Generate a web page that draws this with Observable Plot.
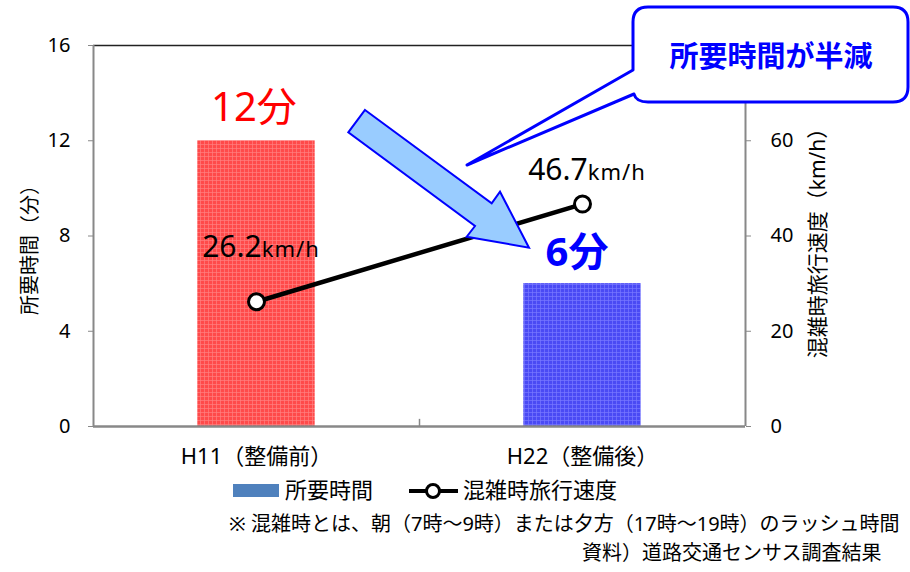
<!DOCTYPE html>
<html><head><meta charset="utf-8">
<script src="https://cdn.jsdelivr.net/npm/d3@7"></script>
<script src="https://cdn.jsdelivr.net/npm/@observablehq/plot@0.6"></script>
<style>
html,body{margin:0;padding:0;background:#fff;overflow:hidden;width:910px;height:572px;}
#chart svg{display:block;}
</style></head><body><div id="chart"></div>
<script>
// ---- data ----
const categories = ["H11（整備前）", "H22（整備後）"];
const minutes = [12, 6];            // 所要時間（分）
const speeds = [26.2, 46.7];        // 混雑時旅行速度（km/h）
const minuteTicks = [0, 4, 8, 12, 16];
const speedTicks = [0, 20, 40, 60];
const barColors = ["red", "blue"];
const legendLabels = ["所要時間", "混雑時旅行速度"];
const calloutText = "所要時間が半減";
const notes = ["※ 混雑時とは、朝（7時～9時）または夕方（17時～19時）のラッシュ時間", "資料）道路交通センサス調査結果"];

const K = 16 / 80; // speed -> minute axis
const FONT = "'Noto Sans','Noto Sans CJK JP',sans-serif";
const rows = categories.map((c, i) => ({i, cat: c, minutes: minutes[i], speed: speeds[i], sy: speeds[i] * K}));

const plot = Plot.plot({
  width: 910, height: 572,
  marginTop: 45, marginBottom: 146, marginLeft: 93, marginRight: 165,
  style: {fontFamily: FONT, fontSize: "20px", color: "#000", background: "#fff", overflow: "visible"},
  x: {type: "linear", domain: [-0.5, 1.5], label: null},
  y: {domain: [0, 16], label: null},
  marks: [
    ...rows.map(r => Plot.rect([r], {x1: d => d.i - 0.18, x2: d => d.i + 0.18, y1: 0, y2: "minutes", fill: `url(#pat-${barColors[r.i]})`})),
    Plot.ruleY([16], {stroke: "#222", strokeWidth: 1.5}),
    Plot.ruleX([-0.5, 1.5], {stroke: "#888", strokeWidth: 2}),
    Plot.ruleY([0], {stroke: "#888", strokeWidth: 2.5}),
    Plot.ruleX([0.5], {y1: 0, y2: 0.3, stroke: "#888", strokeWidth: 1.5}),
    Plot.axisY({ticks: minuteTicks, anchor: "left", tickSize: 5, tickPadding: 18, stroke: "#888", fill: "#000", fontSize: 20, label: null}),
    Plot.axisY({ticks: speedTicks.map(s => s * K), anchor: "right", tickSize: 5, tickPadding: 20, tickFormat: d => Math.round(d / K), stroke: "#888", fill: "#000", fontSize: 20, label: null}),
    Plot.axisX({ticks: [0, 1], tickFormat: i => categories[i], tickSize: 0, tickPadding: 22, fill: "#000", fontSize: 22, label: null}),
    Plot.line(rows, {x: "i", y: "sy", stroke: "#000", strokeWidth: 4.5}),
    Plot.dot(rows, {x: "i", y: "sy", r: 8, fill: "#fff", stroke: "#000", strokeWidth: 3})
  ]
});
document.getElementById("chart").appendChild(plot);

const svg = d3.select(plot);
const sx = plot.scale("x").apply, sy = plot.scale("y").apply;

// bar texture patterns
const defs = svg.insert("defs", ":first-child");
const pats = {red: ["#ff4a4a", "#ff8080"], blue: ["#4a4af4", "#7878ff"]};
for (const [name, [base, line]] of Object.entries(pats)) {
  const p = defs.append("pattern").attr("id", `pat-${name}`).attr("patternUnits", "userSpaceOnUse").attr("width", 4).attr("height", 4);
  p.append("rect").attr("width", 4).attr("height", 4).attr("fill", base);
  p.append("path").attr("d", "M0 0.5H4M0.5 0V4").attr("stroke", line).attr("stroke-width", 0.7);
}

// axis titles
svg.append("text").attr("transform", "translate(29,245) rotate(-90)").attr("text-anchor", "middle").attr("dominant-baseline", "central")
  .attr("font-family", FONT).attr("font-size", 20).text("所要時間（分）");
svg.append("text").attr("transform", "translate(817,238) rotate(-90)").attr("text-anchor", "middle").attr("dominant-baseline", "central")
  .attr("font-family", FONT).attr("font-size", 21).text("混雑時旅行速度（km/h）");

// minute labels
rows.forEach((r, i) => {
  svg.append("text").attr("x", sx(r.i) - 2 - i * 3).attr("y", sy(r.minutes) - (i ? 17 : 19))
    .attr("text-anchor", "middle").attr("font-family", FONT).attr("font-size", 40)
    .attr("font-weight", i ? "bold" : "normal").attr("fill", i ? "#0000ff" : "#ff0000")
    .text(`${r.minutes}分`);
});
// speed labels
rows.forEach((r, i) => {
  const t = svg.append("text").attr("x", sx(r.i) + 5).attr("y", sy(r.sy) - (i ? 24 : 44))
    .attr("text-anchor", "middle").attr("font-family", FONT).attr("fill", "#000");
  t.append("tspan").attr("font-size", 30).text(r.speed.toFixed(1));
  t.append("tspan").attr("font-size", 22).attr("letter-spacing", 1).text("km/h");
});

// big arrow
const arrow = [[365,110],[491.7,203.3],[500,191.7],[529,247.7],[466.7,236.7],[475,226],[348.3,132.3]];
svg.append("polygon").attr("points", arrow.map(p => p.join(",")).join(" "))
  .attr("fill", "#99ccff").attr("stroke", "#0000ff").attr("stroke-width", 2).attr("stroke-linejoin", "miter");

// callout
svg.append("path")
  .attr("d", "M648,7 H893 Q908,7 908,22 V87 Q908,102 893,102 H648 Q636,102 634,94 L467,165 L633,70 V22 Q633,7 648,7 Z")
  .attr("fill", "#fff").attr("stroke", "#0000ff").attr("stroke-width", 3).attr("stroke-linejoin", "round");
svg.append("text").attr("x", 771).attr("y", 67).attr("text-anchor", "middle").attr("font-family", FONT)
  .attr("font-size", 29).attr("font-weight", "bold").attr("fill", "#0000ff").text(calloutText);

// legend
svg.append("rect").attr("x", 233).attr("y", 484).attr("width", 46).attr("height", 13).attr("fill", "#4f81bd");
svg.append("text").attr("x", 285).attr("y", 498).attr("text-anchor", "start").attr("font-family", FONT).attr("font-size", 22).text(legendLabels[0]);
svg.append("line").attr("x1", 409).attr("x2", 458).attr("y1", 491).attr("y2", 491).attr("stroke", "#000").attr("stroke-width", 4);
svg.append("circle").attr("cx", 433).attr("cy", 491).attr("r", 6.5).attr("fill", "#fff").attr("stroke", "#000").attr("stroke-width", 3);
svg.append("text").attr("x", 463).attr("y", 498).attr("text-anchor", "start").attr("font-family", FONT).attr("font-size", 22).text(legendLabels[1]);

// notes
svg.append("text").attr("x", 229).attr("y", 531).attr("text-anchor", "start").attr("font-family", FONT).attr("font-size", 20).text(notes[0]);
svg.append("text").attr("x", 582).attr("y", 560).attr("text-anchor", "start").attr("font-family", FONT).attr("font-size", 20).text(notes[1]);
</script></body></html>
